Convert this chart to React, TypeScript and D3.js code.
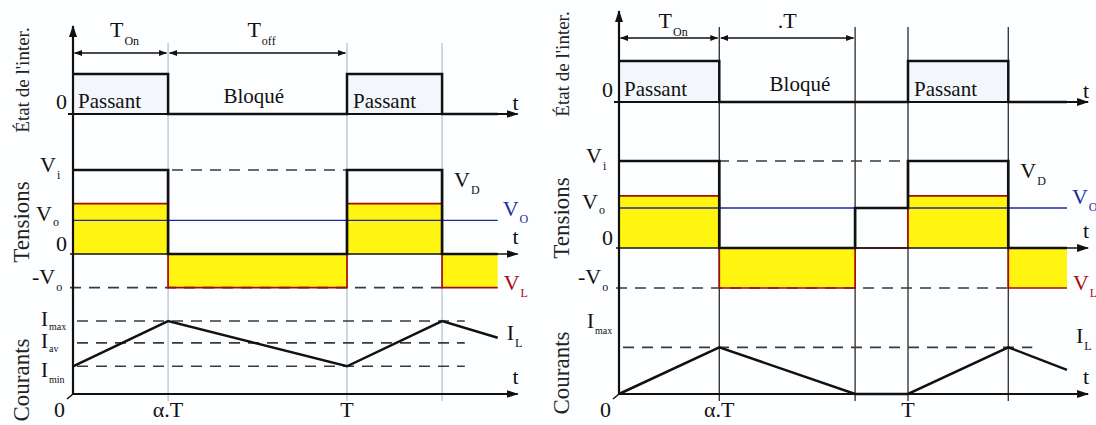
import React from 'react';
import * as d3 from 'd3';

// ---------------- data (time in units of T) ----------------
const leftBreaks = [0, 0.347, 1, 1.347, 1.55];
const rightBreaks = [0, 0.347, 0.817, 1, 1.347, 1.55];
const leftSwitch = [1, 0, 1, 0];
const rightSwitch = [1, 0, 0, 1, 0];
const leftVD = [1, 0, 1, 0];
const rightVD = [1, 0, 0.46, 1, 0];
const leftVL = [0.6, -0.4, 0.6, -0.4];
const rightVL = [0.6, -0.46, 0, 0.6, -0.46];
const leftVo = 0.4;
const rightVo = 0.46;
const leftILt = [0, 0.347, 1, 1.347, 1.55];
const leftIL = [0.38, 1, 0.38, 1, 0.77];
const rightILt = [0, 0.347, 0.817, 1, 1.347, 1.55];
const rightIL = [0, 0.64, 0, 0, 0.64, 0.33];
const leftILevels = [1, 0.7, 0.38];
const leftILevelNames = ['max', 'av', 'min'];
const rightILevels = [0.64];
const rightILevelNames = ['max'];
const leftGuides = [0.347, 1, 1.347];
const rightGuides = [0.347, 0.817, 1, 1.347];
const timeTickValues = [0, 0.347, 1];
const timeTickLabels = ['0', 'α.T', 'T'];
const leftSpans = [[0, 0.347], [0.347, 1]];
const leftSpanLabels = [['T', 'On'], ['T', 'off']];
const rightSpans = [[0, 0.347], [0.347, 0.817]];
const rightSpanLabels = [['T', 'On'], ['.T', '']];
const stateNames = ['Passant', 'Bloqué', 'Passant'];
const axisTitles = ["État de l'inter.", 'Tensions', 'Courants'];

// ---------------- layout ----------------
const leftLayout = {
  x0: 73, x1: 347, axisTop: 25, dimY: 53, dimLabelDy: -16, dimSubDy: 8,
  stateLo: 114, stateHi: 74, vZero: 254, vOne: 170, iZero: 394, iOne: 321,
  titleX: 29, titleY: [80, 222, 380], bloqueAt: 0.66,
  guideTop: 43, guideColor: '#9fb1c1', guideW: 1,
  iLabelDy: [5, 5, 11], iSubDy: [4, 4, 6], ilLabelY: 340,
};
const rightLayout = {
  x0: 619, x1: 908, axisTop: 10, dimY: 38, dimLabelDy: -10, dimSubDy: 8,
  stateLo: 102, stateHi: 61, vZero: 248, vOne: 161, iZero: 394, iOne: 321,
  titleX: 569, titleY: [64, 218, 373], bloqueAt: 0.626,
  guideTop: 27, guideColor: '#2a2a2a', guideW: 1.3,
  iLabelDy: [-19], iSubDy: [6], ilLabelY: 343,
};

const FONT = 'Liberation Serif';
const YELLOW = '#fff510';
const RED = '#a80a0a';
const BLUE = '#1d2a9e';

type Pt = [number, number];

function Sub({ x, y, main, sub, size = 22, subSize = 12, dy = 7, fill = '#111', anchor = 'start' }: any) {
  return (
    <text x={x} y={y} fill={fill} textAnchor={anchor} fontFamily={FONT} fontSize={size}>
      {main}
      {sub ? (
        <tspan dy={dy} dx={1} fontSize={subSize}>{sub}</tspan>
      ) : null}
    </text>
  );
}

function T({ x, y, size = 22, anchor = 'start', children, transform, fill = '#111' }: any) {
  return (
    <text x={x} y={y} transform={transform} textAnchor={anchor} fill={fill}
      fontFamily={FONT} fontSize={size}>{children}</text>
  );
}

function Panel({ L, breaks, sw, vd, vl, vo, ilt, il, ilv, ilvNames, guides, spans, spanLabels }: any) {
  const x = d3.scaleLinear().domain([0, 1]).range([L.x0, L.x1]);
  const ys = d3.scaleLinear().domain([0, 1]).range([L.stateLo, L.stateHi]);
  const yv = d3.scaleLinear().domain([0, 1]).range([L.vZero, L.vOne]);
  const yi = d3.scaleLinear().domain([0, 1]).range([L.iZero, L.iOne]);
  const tEnd = breaks[breaks.length - 1];
  const tArrow = 1.63;
  const tDash = 1.43;
  const step = (vals: number[]): Pt[] =>
    vals.flatMap((v, i) => [[breaks[i], v] as Pt, [breaks[i + 1], v] as Pt]);
  const lineOf = (sc: any) => d3.line<Pt>().x((d) => x(d[0])).y((d) => sc(d[1]));
  const area = d3.area<Pt>().x((d) => x(d[0])).y0(yv(0)).y1((d) => yv(d[1]));
  const ilPts: Pt[] = ilt.map((t: number, i: number) => [t, il[i]] as Pt);
  const xa = x(tArrow);
  const xe = x(tEnd);
  const bottom = L.iZero + 7;

  return (
    <g>
      {axisTitles.map((t, i) => (
        <T key={t} transform={`translate(${L.titleX},${L.titleY[i]}) rotate(-90)`}
          anchor="middle" size={i === 0 ? 19 : 23} fill="#222">{t}</T>
      ))}

      {guides.map((g: number) => (
        <line key={g} x1={x(g)} x2={x(g)} y1={L.guideTop} y2={bottom}
          stroke={L.guideColor} strokeWidth={L.guideW} />
      ))}

      {spans.map((s: number[], i: number) => {
        const xa1 = x(s[0]) + 1.5, xa2 = x(s[1]) - 1.5;
        const mid = (x(s[0]) + x(s[1])) / 2;
        return (
          <g key={i}>
            <line x1={xa1} x2={xa2} y1={L.dimY} y2={L.dimY} stroke="#111" strokeWidth={1.3}
              markerStart="url(#dimA)" markerEnd="url(#dimA)" />
            <Sub x={mid + (spanLabels[i][1] ? 4 : 0)} y={L.dimY + L.dimLabelDy} main={spanLabels[i][0]}
              sub={spanLabels[i][1]} dy={L.dimSubDy} anchor="middle" />
          </g>
        );
      })}

      {sw.map((v: number, i: number) => v === 1 ? (
        <rect key={i} x={x(breaks[i])} width={x(breaks[i + 1]) - x(breaks[i])}
          y={ys(1)} height={ys(0) - ys(1)} fill="#f3f7fc" />
      ) : null)}
      <line x1={L.x0 - 5} x2={xa - 2} y1={ys(0)} y2={ys(0)} stroke="#111" strokeWidth={2}
        markerEnd="url(#axA)" />
      <path d={lineOf(ys)(step(sw)) || ''} fill="none" stroke="#111" strokeWidth={2.5} />
      <T x={L.x0 - 6} y={ys(0) - 5} anchor="end">0</T>
      <T x={x(breaks[0]) + 5} y={ys(0) - 6} size={21}>{stateNames[0]}</T>
      <T x={x(L.bloqueAt)} y={ys(0) - 11} size={21} anchor="middle">{stateNames[1]}</T>
      <T x={x(1) + 6} y={ys(0) - 6} size={21}>{stateNames[2]}</T>
      <T x={xa - 7} y={ys(0) - 4}>t</T>

      <path d={area(step(vl)) || ''} fill={YELLOW} />
      <line x1={L.x0 - 3} x2={x(1.347)} y1={yv(-vo)} y2={yv(-vo)} stroke="#3a3a3a"
        strokeWidth={1.6} strokeDasharray="11,8" />
      <line x1={L.x0} x2={x(1.347)} y1={yv(1)} y2={yv(1)} stroke="#3a3a3a"
        strokeWidth={1.6} strokeDasharray="11,8" strokeDashoffset={-4} />
      <line x1={L.x0} x2={xe} y1={yv(vo)} y2={yv(vo)} stroke={BLUE} strokeWidth={1.3} />
      <path d={lineOf(yv)(step(vl)) || ''} fill="none" stroke={RED} strokeWidth={1.7} />
      <line x1={L.x0 - 3} x2={xa - 2} y1={yv(0)} y2={yv(0)} stroke="#111" strokeWidth={1.3}
        markerEnd="url(#axA)" />
      <path d={lineOf(yv)(step(vd)) || ''} fill="none" stroke="#111" strokeWidth={2.7} />
      <Sub x={L.x0 - 33} y={yv(1) + 2} main="V" sub="i" />
      <Sub x={L.x0 - 37} y={yv(vo) + 1} main="V" sub="o" dy={5} />
      <T x={L.x0 - 6} y={yv(0) - 3} anchor="end">0</T>
      <Sub x={L.x0 - 41} y={yv(-vo) - 4} main="-V" sub="o" />
      <Sub x={x(1.347) + 12} y={yv(1) + 17} main="V" sub="D" />
      <Sub x={xe + 5} y={yv(vo) - 4} main="V" sub="O" fill={BLUE} />
      <T x={xa - 7} y={yv(0) - 10}>t</T>
      <Sub x={xe + 6} y={yv(-vo) + 2} main="V" sub="L" fill={RED} />

      {ilv.map((v: number, i: number) => (
        <g key={i}>
          <line x1={L.x0} x2={x(tDash)} y1={yi(v)} y2={yi(v)} stroke="#3a3a3a"
            strokeWidth={1.7} strokeDasharray="11,8" strokeDashoffset={-4} />
          <Sub x={L.x0 - 32} y={yi(v) + L.iLabelDy[i]} main="I" sub={ilvNames[i]}
            size={21} subSize={10} dy={L.iSubDy[i]} />
        </g>
      ))}
      <line x1={L.x0} x2={xa - 2} y1={yi(0)} y2={yi(0)} stroke="#111" strokeWidth={2}
        markerEnd="url(#axA)" />
      <line x1={L.x0 - 6} x2={L.x0} y1={yi(0) + 5} y2={yi(0)} stroke="#111" strokeWidth={1.5} />
      <path d={lineOf(yi)(ilPts) || ''} fill="none" stroke="#111" strokeWidth={2.5} />
      <Sub x={xe + 9} y={L.ilLabelY} main="I" sub="L" />
      <T x={xa - 7} y={yi(0) - 10}>t</T>
      {timeTickValues.map((t, i) => (
        <T key={i} x={i === 0 ? x(t) - 8 : x(t)} y={L.iZero + 23}
          anchor={i === 0 ? 'end' : 'middle'}>{timeTickLabels[i]}</T>
      ))}

      <line x1={L.x0} x2={L.x0} y1={L.iZero + 1} y2={L.axisTop + 1} stroke="#111" strokeWidth={2.2}
        markerEnd="url(#axA)" />
    </g>
  );
}

export default function App() {
  return (
    <svg width={1096} height={425}
      style={{ position: 'absolute', left: 0, top: 0, background: '#fdfeff' }}>
      <defs>
        <marker id="axA" markerWidth={12} markerHeight={8} refX={11} refY={4} orient="auto"
          markerUnits="userSpaceOnUse">
          <path d="M0,0 L12,4 L0,8 Z" fill="#111" />
        </marker>
        <marker id="dimA" markerWidth={8} markerHeight={6} refX={7.5} refY={3} orient="auto-start-reverse"
          markerUnits="userSpaceOnUse">
          <path d="M0,0 L8,3 L0,6 Z" fill="#111" />
        </marker>
      </defs>
      <Panel L={leftLayout} breaks={leftBreaks} sw={leftSwitch} vd={leftVD} vl={leftVL} vo={leftVo}
        ilt={leftILt} il={leftIL} ilv={leftILevels} ilvNames={leftILevelNames} guides={leftGuides}
        spans={leftSpans} spanLabels={leftSpanLabels} />
      <Panel L={rightLayout} breaks={rightBreaks} sw={rightSwitch} vd={rightVD} vl={rightVL} vo={rightVo}
        ilt={rightILt} il={rightIL} ilv={rightILevels} ilvNames={rightILevelNames} guides={rightGuides}
        spans={rightSpans} spanLabels={rightSpanLabels} />
    </svg>
  );
}
